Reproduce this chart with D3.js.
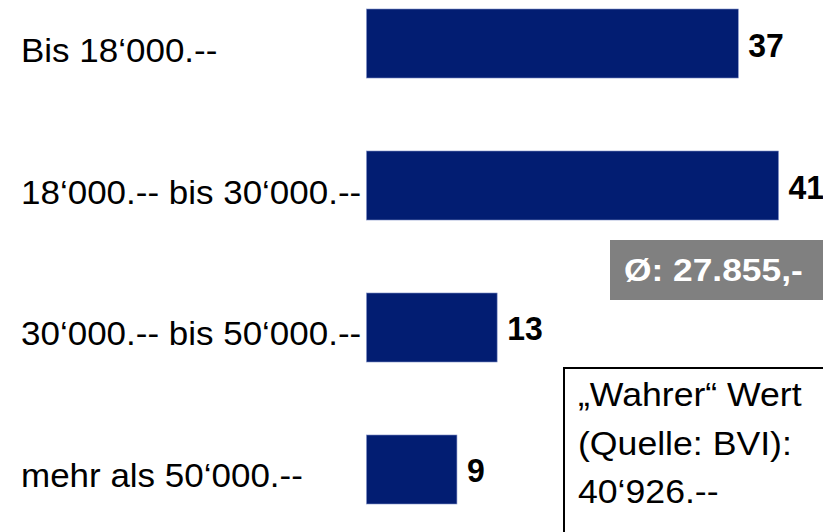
<!DOCTYPE html>
<html>
<head>
<meta charset="utf-8">
<script src="https://cdn.jsdelivr.net/npm/d3@7"></script>
<style>
  html, body { margin: 0; padding: 0; background: #fff; overflow: hidden; }
  svg { display: block; font-family: "Liberation Sans", Arial, sans-serif; }
</style>
</head>
<body>
<svg width="823" height="532"></svg>
<script>
const categories = [
  "Bis 18‘000.--",
  "18‘000.-- bis 30‘000.--",
  "30‘000.-- bis 50‘000.--",
  "mehr als 50‘000.--",
];
const values = [37, 41, 13, 9];
const averageLabel = "Ø: 27.855,-";
const noteLines = ["„Wahrer“ Wert", "(Quelle: BVI):", "40‘926.--"];

const svg = d3.select("svg");
const width = +svg.attr("width");
const height = +svg.attr("height");

// slide text is a little stretched / squeezed horizontally
const place = (x, y, sx) => `translate(${x},${y}) scale(${sx},1)`;

const data = categories.map((c, i) => ({ category: c, value: values[i] }));

const margin = { top: 9, left: 366.5 };
const xScale = d3.scaleLinear().domain([0, 41]).range([margin.left, 778.5]);
const yScale = d3
  .scaleBand()
  .domain(categories)
  .range([margin.top, 504])
  .paddingInner(0.514)
  .paddingOuter(0);
const mid = (d) => yScale(d.category) + yScale.bandwidth() / 2;

// bars
svg
  .selectAll("rect.bar")
  .data(data)
  .enter()
  .append("rect")
  .attr("class", "bar")
  .attr("x", xScale(0))
  .attr("y", (d) => yScale(d.category))
  .attr("width", (d) => xScale(d.value) - xScale(0))
  .attr("height", yScale.bandwidth())
  .attr("fill", "#021D72")
  .attr("stroke", "#7f8fc6")
  .attr("stroke-width", 0.6);

// category labels
svg
  .selectAll("text.cat")
  .data(data)
  .enter()
  .append("text")
  .attr("class", "cat")
  .attr("transform", (d) => place(21, mid(d) + 18, 1.06))
  .attr("font-size", 33)
  .attr("fill", "#000")
  .text((d) => d.category);

// value labels
svg
  .selectAll("text.val")
  .data(data)
  .enter()
  .append("text")
  .attr("class", "val")
  .attr("transform", (d) => place(xScale(d.value) + 10, mid(d) + 13, 0.94))
  .attr("font-size", 34)
  .attr("font-weight", "bold")
  .attr("fill", "#000")
  .text((d) => d.value);

// average box
svg
  .append("rect")
  .attr("x", 610)
  .attr("y", 240)
  .attr("width", 220)
  .attr("height", 60)
  .attr("fill", "#808080");
svg
  .append("text")
  .attr("transform", place(624, 281, 1.14))
  .attr("font-size", 31)
  .attr("font-weight", "bold")
  .attr("fill", "#fff")
  .text(averageLabel);

// note box
svg
  .append("rect")
  .attr("x", 564)
  .attr("y", 368)
  .attr("width", 280)
  .attr("height", 200)
  .attr("fill", "none")
  .attr("stroke", "#000")
  .attr("stroke-width", 2);
svg
  .selectAll("text.note")
  .data(noteLines)
  .enter()
  .append("text")
  .attr("class", "note")
  .attr("transform", (d, i) => place(578, 406 + i * 48.5, 1.08))
  .attr("font-size", 33)
  .attr("fill", "#000")
  .text((d) => d);
</script>
</body>
</html>
